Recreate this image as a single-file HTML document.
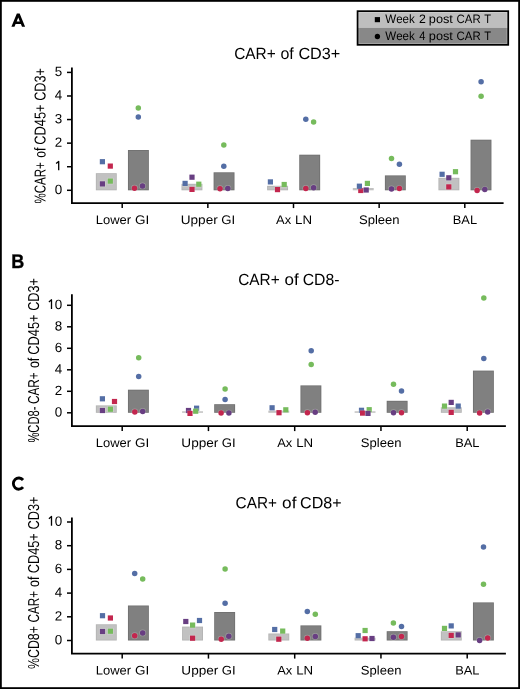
<!DOCTYPE html><html><head><meta charset="utf-8"><style>
html,body{margin:0;padding:0;background:#fff;}
svg{display:block;text-rendering:geometricPrecision;will-change:transform;}
.m{stroke:rgba(255,255,255,0.22);stroke-width:1.4px;paint-order:stroke;}
text{font-family:"Liberation Sans", sans-serif;fill:#000;font-kerning:none;}
</style></head><body>
<svg width="520" height="689" viewBox="0 0 520 689">
<rect x="0" y="0" width="520" height="689" fill="#fff"/>
<path d="M11.4 26.75L16.85 13.55H19.65L25.1 26.75H22L20.9 24H15.6L14.5 26.75ZM16.7 21.4H19.8L18.25 17.6Z" fill="#000" fill-rule="evenodd"/>
<text x="234.22" y="58.9" font-size="16.2" textLength="41.54" lengthAdjust="spacingAndGlyphs" transform="rotate(0.05 234.22 58.9)">CAR+</text>
<text x="280.43" y="58.9" font-size="16.2" textLength="13.35" lengthAdjust="spacingAndGlyphs" transform="rotate(0.05 280.43 58.9)">of</text>
<text x="298.38" y="58.9" font-size="16.2" textLength="41.92" lengthAdjust="spacingAndGlyphs" transform="rotate(0.05 298.38 58.9)">CD3+</text>
<g transform="translate(45.55,0) rotate(-90)">
<text x="-203.41" y="0" font-size="15.8" textLength="41.18" lengthAdjust="spacingAndGlyphs" transform="rotate(0.05 -203.41 0)">%CAR+</text>
<text x="-157.81" y="0" font-size="15.8" textLength="10.09" lengthAdjust="spacingAndGlyphs" transform="rotate(0.05 -157.81 0)">of</text>
<text x="-144.65" y="0" font-size="15.8" textLength="40.18" lengthAdjust="spacingAndGlyphs" transform="rotate(0.05 -144.65 0)">CD45+</text>
<text x="-100.84" y="0" font-size="15.8" textLength="32.82" lengthAdjust="spacingAndGlyphs" transform="rotate(0.05 -100.84 0)">CD3+</text>
</g>
<rect x="95.85" y="173.2" width="20.9" height="17.1" fill="#b2b2b2"/>
<rect x="96.65" y="174" width="19.3" height="15.5" fill="#c1c1c1"/>
<rect x="127.95" y="150" width="20.9" height="40.3" fill="#6f6f6f"/>
<rect x="128.75" y="150.8" width="19.3" height="38.7" fill="#808080"/>
<rect x="181.5" y="183.8" width="20.9" height="6.5" fill="#b2b2b2"/>
<rect x="182.3" y="184.6" width="19.3" height="4.9" fill="#c1c1c1"/>
<rect x="213.6" y="172.3" width="20.9" height="18" fill="#6f6f6f"/>
<rect x="214.4" y="173.1" width="19.3" height="16.4" fill="#808080"/>
<rect x="267.15" y="185.8" width="20.9" height="4.5" fill="#b2b2b2"/>
<rect x="267.95" y="186.6" width="19.3" height="2.9" fill="#c1c1c1"/>
<rect x="299.25" y="154.7" width="20.9" height="35.6" fill="#6f6f6f"/>
<rect x="300.05" y="155.5" width="19.3" height="34" fill="#808080"/>
<rect x="352.8" y="188" width="20.9" height="2.3" fill="#c1c1c1"/>
<rect x="384.9" y="175.4" width="20.9" height="14.9" fill="#6f6f6f"/>
<rect x="385.7" y="176.2" width="19.3" height="13.3" fill="#808080"/>
<rect x="438.45" y="177.8" width="20.9" height="12.5" fill="#b2b2b2"/>
<rect x="439.25" y="178.6" width="19.3" height="10.9" fill="#c1c1c1"/>
<rect x="470.55" y="139.7" width="20.9" height="50.6" fill="#6f6f6f"/>
<rect x="471.35" y="140.5" width="19.3" height="49" fill="#808080"/>
<rect x="99.8" y="159.1" width="5.2" height="5.2" fill="#546ea5" class="m"/>
<rect x="107.7" y="163.5" width="5.2" height="5.2" fill="#c3264e" class="m"/>
<rect x="99.8" y="181.3" width="5.2" height="5.2" fill="#683e82" class="m"/>
<rect x="107.7" y="178.5" width="5.2" height="5.2" fill="#76bb5c" class="m"/>
<circle cx="138.3" cy="108.1" r="2.75" fill="#76bb5c" class="m"/>
<circle cx="138.3" cy="117.1" r="2.75" fill="#546ea5" class="m"/>
<circle cx="134.5" cy="188.2" r="2.75" fill="#c3264e" class="m"/>
<circle cx="142.5" cy="185.9" r="2.75" fill="#683e82" class="m"/>
<rect x="189.4" y="174.6" width="5.2" height="5.2" fill="#683e82" class="m"/>
<rect x="182.5" y="180.8" width="5.2" height="5.2" fill="#546ea5" class="m"/>
<rect x="196.2" y="181.6" width="5.2" height="5.2" fill="#76bb5c" class="m"/>
<rect x="189.4" y="186.8" width="5.2" height="5.2" fill="#c3264e" class="m"/>
<circle cx="223.8" cy="144.9" r="2.75" fill="#76bb5c" class="m"/>
<circle cx="223.8" cy="166.3" r="2.75" fill="#546ea5" class="m"/>
<circle cx="220" cy="188.8" r="2.75" fill="#c3264e" class="m"/>
<circle cx="227.8" cy="188.5" r="2.75" fill="#683e82" class="m"/>
<rect x="267.8" y="179.3" width="5.2" height="5.2" fill="#546ea5" class="m"/>
<rect x="281.6" y="181.9" width="5.2" height="5.2" fill="#76bb5c" class="m"/>
<rect x="274.9" y="187" width="5.2" height="5.2" fill="#c3264e" class="m"/>
<circle cx="305.8" cy="119.2" r="2.75" fill="#546ea5" class="m"/>
<circle cx="313.6" cy="121.9" r="2.75" fill="#76bb5c" class="m"/>
<circle cx="305.8" cy="188.4" r="2.75" fill="#c3264e" class="m"/>
<circle cx="313.6" cy="187.8" r="2.75" fill="#683e82" class="m"/>
<rect x="358.2" y="187.9" width="5.2" height="5.2" fill="#c3264e" class="m"/>
<rect x="356.8" y="183.6" width="5.2" height="5.2" fill="#546ea5" class="m"/>
<rect x="363.6" y="187.4" width="5.2" height="5.2" fill="#683e82" class="m"/>
<rect x="364.8" y="180.8" width="5.2" height="5.2" fill="#76bb5c" class="m"/>
<circle cx="391.5" cy="158.5" r="2.75" fill="#76bb5c" class="m"/>
<circle cx="399.4" cy="164.2" r="2.75" fill="#546ea5" class="m"/>
<circle cx="391.5" cy="188.9" r="2.75" fill="#683e82" class="m"/>
<circle cx="399.4" cy="188.6" r="2.75" fill="#c3264e" class="m"/>
<rect x="439.5" y="171.7" width="5.2" height="5.2" fill="#546ea5" class="m"/>
<rect x="446.2" y="175.2" width="5.2" height="5.2" fill="#683e82" class="m"/>
<rect x="452.9" y="169.1" width="5.2" height="5.2" fill="#76bb5c" class="m"/>
<rect x="446.2" y="184.3" width="5.2" height="5.2" fill="#c3264e" class="m"/>
<circle cx="481.1" cy="81.8" r="2.75" fill="#546ea5" class="m"/>
<circle cx="481.1" cy="96.2" r="2.75" fill="#76bb5c" class="m"/>
<circle cx="477.1" cy="190.4" r="2.75" fill="#c3264e" class="m"/>
<circle cx="484.8" cy="189.6" r="2.75" fill="#683e82" class="m"/>
<path d="M71.9 67.5V203.1H503.6" fill="none" stroke="#000" stroke-width="1.8" stroke-linejoin="miter" stroke-linecap="butt"/>
<line x1="67" y1="190.3" x2="71.9" y2="190.3" stroke="#000" stroke-width="1.5"/>
<text x="62.1" y="193.95" font-size="13.4" text-anchor="end" transform="rotate(0.05 62.1 193.95)">0</text>
<line x1="67" y1="166.72" x2="71.9" y2="166.72" stroke="#000" stroke-width="1.5"/>
<path d="M56.1 163.62L58.7 161.42V170.22" fill="none" stroke="#000" stroke-width="1.3" stroke-linejoin="round"/>
<line x1="67" y1="143.14" x2="71.9" y2="143.14" stroke="#000" stroke-width="1.5"/>
<text x="62.1" y="146.79" font-size="13.4" text-anchor="end" transform="rotate(0.05 62.1 146.79)">2</text>
<line x1="67" y1="119.56" x2="71.9" y2="119.56" stroke="#000" stroke-width="1.5"/>
<text x="62.1" y="123.21" font-size="13.4" text-anchor="end" transform="rotate(0.05 62.1 123.21)">3</text>
<line x1="67" y1="95.98" x2="71.9" y2="95.98" stroke="#000" stroke-width="1.5"/>
<text x="62.1" y="99.63" font-size="13.4" text-anchor="end" transform="rotate(0.05 62.1 99.63)">4</text>
<line x1="67" y1="72.4" x2="71.9" y2="72.4" stroke="#000" stroke-width="1.5"/>
<text x="62.1" y="76.05" font-size="13.4" text-anchor="end" transform="rotate(0.05 62.1 76.05)">5</text>
<line x1="122.2" y1="203.1" x2="122.2" y2="208.1" stroke="#000" stroke-width="1.5"/>
<text x="95.74" y="224" font-size="12.5" textLength="35.28" lengthAdjust="spacingAndGlyphs" transform="rotate(0.05 95.74 224)">Lower</text>
<text x="135.12" y="224" font-size="12.5" textLength="14.22" lengthAdjust="spacingAndGlyphs" transform="rotate(0.05 135.12 224)">GI</text>
<line x1="207.85" y1="203.1" x2="207.85" y2="208.1" stroke="#000" stroke-width="1.5"/>
<text x="180.75" y="224" font-size="12.5" textLength="36.97" lengthAdjust="spacingAndGlyphs" transform="rotate(0.05 180.75 224)">Upper</text>
<text x="221.24" y="224" font-size="12.5" textLength="13.87" lengthAdjust="spacingAndGlyphs" transform="rotate(0.05 221.24 224)">GI</text>
<line x1="293.5" y1="203.1" x2="293.5" y2="208.1" stroke="#000" stroke-width="1.5"/>
<text x="276.07" y="224" font-size="12.5" textLength="15.06" lengthAdjust="spacingAndGlyphs" transform="rotate(0.05 276.07 224)">Ax</text>
<text x="295.01" y="224" font-size="12.5" textLength="16.97" lengthAdjust="spacingAndGlyphs" transform="rotate(0.05 295.01 224)">LN</text>
<line x1="379.15" y1="203.1" x2="379.15" y2="208.1" stroke="#000" stroke-width="1.5"/>
<text x="359.01" y="224" font-size="12.5" textLength="40.64" lengthAdjust="spacingAndGlyphs" transform="rotate(0.05 359.01 224)">Spleen</text>
<line x1="464.8" y1="203.1" x2="464.8" y2="208.1" stroke="#000" stroke-width="1.5"/>
<text x="452.75" y="224" font-size="12.5" textLength="24.28" lengthAdjust="spacingAndGlyphs" transform="rotate(0.05 452.75 224)">BAL</text>
<text x="11.29" y="268" font-size="19.8" font-weight="bold" textLength="13.03" lengthAdjust="spacingAndGlyphs" stroke="#000" stroke-width="0.35" transform="rotate(0.05 11.29 268)">B</text>
<text x="238.22" y="285.1" font-size="16.2" textLength="41.44" lengthAdjust="spacingAndGlyphs" transform="rotate(0.05 238.22 285.1)">CAR+</text>
<text x="284.59" y="285.1" font-size="16.2" textLength="14.19" lengthAdjust="spacingAndGlyphs" transform="rotate(0.05 284.59 285.1)">of</text>
<text x="302.7" y="285.1" font-size="16.2" textLength="36.7" lengthAdjust="spacingAndGlyphs" transform="rotate(0.05 302.7 285.1)">CD8-</text>
<g transform="translate(39,0) rotate(-90)">
<text x="-442.6" y="0" font-size="15.8" textLength="36.1" lengthAdjust="spacingAndGlyphs" transform="rotate(0.05 -442.6 0)">%CD8-</text>
<text x="-404" y="0" font-size="15.8" textLength="31.68" lengthAdjust="spacingAndGlyphs" transform="rotate(0.05 -404 0)">CAR+</text>
<text x="-368.12" y="0" font-size="15.8" textLength="10.41" lengthAdjust="spacingAndGlyphs" transform="rotate(0.05 -368.12 0)">of</text>
<text x="-354.65" y="0" font-size="15.8" textLength="40.18" lengthAdjust="spacingAndGlyphs" transform="rotate(0.05 -354.65 0)">CD45+</text>
<text x="-310.85" y="0" font-size="15.8" textLength="32.87" lengthAdjust="spacingAndGlyphs" transform="rotate(0.05 -310.85 0)">CD3+</text>
</g>
<rect x="95.85" y="405.4" width="20.9" height="7.4" fill="#b2b2b2"/>
<rect x="96.65" y="406.2" width="19.3" height="5.8" fill="#c1c1c1"/>
<rect x="127.95" y="389.7" width="20.9" height="23.1" fill="#6f6f6f"/>
<rect x="128.75" y="390.5" width="19.3" height="21.5" fill="#808080"/>
<rect x="182.1" y="411.3" width="20.9" height="1.5" fill="#c1c1c1"/>
<rect x="214.2" y="404.2" width="20.9" height="8.6" fill="#6f6f6f"/>
<rect x="215" y="405" width="19.3" height="7" fill="#808080"/>
<rect x="268.35" y="410.6" width="20.9" height="2.2" fill="#c1c1c1"/>
<rect x="300.45" y="385.4" width="20.9" height="27.4" fill="#6f6f6f"/>
<rect x="301.25" y="386.2" width="19.3" height="25.8" fill="#808080"/>
<rect x="354.6" y="411.3" width="20.9" height="1.5" fill="#c1c1c1"/>
<rect x="386.7" y="400.8" width="20.9" height="12" fill="#6f6f6f"/>
<rect x="387.5" y="401.6" width="19.3" height="10.4" fill="#808080"/>
<rect x="440.85" y="407.3" width="20.9" height="5.5" fill="#b2b2b2"/>
<rect x="441.65" y="408.1" width="19.3" height="3.9" fill="#c1c1c1"/>
<rect x="472.95" y="370.6" width="20.9" height="42.2" fill="#6f6f6f"/>
<rect x="473.75" y="371.4" width="19.3" height="40.6" fill="#808080"/>
<rect x="99.8" y="396.2" width="5.2" height="5.2" fill="#546ea5" class="m"/>
<rect x="111.9" y="398.9" width="5.2" height="5.2" fill="#c3264e" class="m"/>
<rect x="99.8" y="407.9" width="5.2" height="5.2" fill="#683e82" class="m"/>
<rect x="107.8" y="406.6" width="5.2" height="5.2" fill="#76bb5c" class="m"/>
<circle cx="138.7" cy="357.7" r="2.75" fill="#76bb5c" class="m"/>
<circle cx="138.7" cy="376.6" r="2.75" fill="#546ea5" class="m"/>
<circle cx="134.8" cy="412" r="2.75" fill="#c3264e" class="m"/>
<circle cx="142.7" cy="411.4" r="2.75" fill="#683e82" class="m"/>
<rect x="185.9" y="407.9" width="5.2" height="5.2" fill="#683e82" class="m"/>
<rect x="187.4" y="410.8" width="5.2" height="5.2" fill="#c3264e" class="m"/>
<rect x="194" y="405.6" width="5.2" height="5.2" fill="#546ea5" class="m"/>
<rect x="193.1" y="408.6" width="5.2" height="5.2" fill="#76bb5c" class="m"/>
<circle cx="225.1" cy="388.9" r="2.75" fill="#76bb5c" class="m"/>
<circle cx="225.1" cy="399.4" r="2.75" fill="#546ea5" class="m"/>
<circle cx="221.1" cy="413.1" r="2.75" fill="#c3264e" class="m"/>
<circle cx="228.9" cy="413.1" r="2.75" fill="#683e82" class="m"/>
<rect x="269.5" y="405.2" width="5.2" height="5.2" fill="#546ea5" class="m"/>
<rect x="276.4" y="410.1" width="5.2" height="5.2" fill="#c3264e" class="m"/>
<rect x="283.2" y="407.2" width="5.2" height="5.2" fill="#76bb5c" class="m"/>
<circle cx="311.2" cy="350.8" r="2.75" fill="#546ea5" class="m"/>
<circle cx="311.2" cy="364.5" r="2.75" fill="#76bb5c" class="m"/>
<circle cx="307.4" cy="412.7" r="2.75" fill="#c3264e" class="m"/>
<circle cx="315.2" cy="412.2" r="2.75" fill="#683e82" class="m"/>
<rect x="358.9" y="407.7" width="5.2" height="5.2" fill="#546ea5" class="m"/>
<rect x="366.6" y="407.1" width="5.2" height="5.2" fill="#76bb5c" class="m"/>
<rect x="360" y="410.5" width="5.2" height="5.2" fill="#c3264e" class="m"/>
<rect x="365.4" y="410.8" width="5.2" height="5.2" fill="#683e82" class="m"/>
<circle cx="393.5" cy="384.2" r="2.75" fill="#76bb5c" class="m"/>
<circle cx="401.5" cy="391.1" r="2.75" fill="#546ea5" class="m"/>
<circle cx="393.5" cy="412.8" r="2.75" fill="#683e82" class="m"/>
<circle cx="401.5" cy="412.8" r="2.75" fill="#c3264e" class="m"/>
<rect x="448.6" y="399.8" width="5.2" height="5.2" fill="#683e82" class="m"/>
<rect x="441.9" y="403.5" width="5.2" height="5.2" fill="#76bb5c" class="m"/>
<rect x="455.6" y="403.5" width="5.2" height="5.2" fill="#546ea5" class="m"/>
<rect x="448.6" y="409.8" width="5.2" height="5.2" fill="#c3264e" class="m"/>
<circle cx="483.8" cy="297.9" r="2.75" fill="#76bb5c" class="m"/>
<circle cx="483.8" cy="358.5" r="2.75" fill="#546ea5" class="m"/>
<circle cx="479.6" cy="413.1" r="2.75" fill="#c3264e" class="m"/>
<circle cx="487.7" cy="411.9" r="2.75" fill="#683e82" class="m"/>
<path d="M71.9 294.3V426.1H505.9" fill="none" stroke="#000" stroke-width="1.8" stroke-linejoin="miter" stroke-linecap="butt"/>
<line x1="67" y1="412.8" x2="71.9" y2="412.8" stroke="#000" stroke-width="1.5"/>
<text x="62.1" y="416.45" font-size="13.4" text-anchor="end" transform="rotate(0.05 62.1 416.45)">0</text>
<line x1="67" y1="391.3" x2="71.9" y2="391.3" stroke="#000" stroke-width="1.5"/>
<text x="62.1" y="394.95" font-size="13.4" text-anchor="end" transform="rotate(0.05 62.1 394.95)">2</text>
<line x1="67" y1="369.8" x2="71.9" y2="369.8" stroke="#000" stroke-width="1.5"/>
<text x="62.1" y="373.45" font-size="13.4" text-anchor="end" transform="rotate(0.05 62.1 373.45)">4</text>
<line x1="67" y1="348.3" x2="71.9" y2="348.3" stroke="#000" stroke-width="1.5"/>
<text x="62.1" y="351.95" font-size="13.4" text-anchor="end" transform="rotate(0.05 62.1 351.95)">6</text>
<line x1="67" y1="326.8" x2="71.9" y2="326.8" stroke="#000" stroke-width="1.5"/>
<text x="62.1" y="330.45" font-size="13.4" text-anchor="end" transform="rotate(0.05 62.1 330.45)">8</text>
<line x1="67" y1="305.3" x2="71.9" y2="305.3" stroke="#000" stroke-width="1.5"/>
<path d="M48.9 302L51.5 299.8V309" fill="none" stroke="#000" stroke-width="1.3" stroke-linejoin="round"/>
<text x="62.1" y="308.95" font-size="13.4" text-anchor="end" transform="rotate(0.05 62.1 308.95)">0</text>
<line x1="122.2" y1="426.1" x2="122.2" y2="431.1" stroke="#000" stroke-width="1.5"/>
<text x="95.74" y="447" font-size="12.5" textLength="35.28" lengthAdjust="spacingAndGlyphs" transform="rotate(0.05 95.74 447)">Lower</text>
<text x="135.12" y="447" font-size="12.5" textLength="14.22" lengthAdjust="spacingAndGlyphs" transform="rotate(0.05 135.12 447)">GI</text>
<line x1="208.45" y1="426.1" x2="208.45" y2="431.1" stroke="#000" stroke-width="1.5"/>
<text x="181.35" y="447" font-size="12.5" textLength="36.97" lengthAdjust="spacingAndGlyphs" transform="rotate(0.05 181.35 447)">Upper</text>
<text x="221.84" y="447" font-size="12.5" textLength="13.87" lengthAdjust="spacingAndGlyphs" transform="rotate(0.05 221.84 447)">GI</text>
<line x1="294.7" y1="426.1" x2="294.7" y2="431.1" stroke="#000" stroke-width="1.5"/>
<text x="277.27" y="447" font-size="12.5" textLength="15.06" lengthAdjust="spacingAndGlyphs" transform="rotate(0.05 277.27 447)">Ax</text>
<text x="296.21" y="447" font-size="12.5" textLength="16.97" lengthAdjust="spacingAndGlyphs" transform="rotate(0.05 296.21 447)">LN</text>
<line x1="380.95" y1="426.1" x2="380.95" y2="431.1" stroke="#000" stroke-width="1.5"/>
<text x="360.81" y="447" font-size="12.5" textLength="40.64" lengthAdjust="spacingAndGlyphs" transform="rotate(0.05 360.81 447)">Spleen</text>
<line x1="467.2" y1="426.1" x2="467.2" y2="431.1" stroke="#000" stroke-width="1.5"/>
<text x="455.15" y="447" font-size="12.5" textLength="24.28" lengthAdjust="spacingAndGlyphs" transform="rotate(0.05 455.15 447)">BAL</text>
<path d="M23.06 480.00A5.5 5.6 0 1 0 23.06 487.20" fill="none" stroke="#000" stroke-width="2.85"/>
<text x="235.62" y="508.15" font-size="16.2" textLength="41.34" lengthAdjust="spacingAndGlyphs" transform="rotate(0.05 235.62 508.15)">CAR+</text>
<text x="282.07" y="508.15" font-size="16.2" textLength="14.4" lengthAdjust="spacingAndGlyphs" transform="rotate(0.05 282.07 508.15)">of</text>
<text x="300.08" y="508.15" font-size="16.2" textLength="41.51" lengthAdjust="spacingAndGlyphs" transform="rotate(0.05 300.08 508.15)">CD8+</text>
<g transform="translate(39,0) rotate(-90)">
<text x="-669.04" y="0" font-size="15.8" textLength="42.95" lengthAdjust="spacingAndGlyphs" transform="rotate(0.05 -669.04 0)">%CD8+</text>
<text x="-622.39" y="0" font-size="15.8" textLength="31.47" lengthAdjust="spacingAndGlyphs" transform="rotate(0.05 -622.39 0)">CAR+</text>
<text x="-587.02" y="0" font-size="15.8" textLength="10.41" lengthAdjust="spacingAndGlyphs" transform="rotate(0.05 -587.02 0)">of</text>
<text x="-573.25" y="0" font-size="15.8" textLength="40.08" lengthAdjust="spacingAndGlyphs" transform="rotate(0.05 -573.25 0)">CD45+</text>
<text x="-529.55" y="0" font-size="15.8" textLength="32.98" lengthAdjust="spacingAndGlyphs" transform="rotate(0.05 -529.55 0)">CD3+</text>
</g>
<rect x="95.85" y="624.3" width="20.9" height="16.2" fill="#b2b2b2"/>
<rect x="96.65" y="625.1" width="19.3" height="14.6" fill="#c1c1c1"/>
<rect x="127.95" y="605.5" width="20.9" height="35" fill="#6f6f6f"/>
<rect x="128.75" y="606.3" width="19.3" height="33.4" fill="#808080"/>
<rect x="182.1" y="626.6" width="20.9" height="13.9" fill="#b2b2b2"/>
<rect x="182.9" y="627.4" width="19.3" height="12.3" fill="#c1c1c1"/>
<rect x="214.2" y="612" width="20.9" height="28.5" fill="#6f6f6f"/>
<rect x="215" y="612.8" width="19.3" height="26.9" fill="#808080"/>
<rect x="268.35" y="633.5" width="20.9" height="7" fill="#b2b2b2"/>
<rect x="269.15" y="634.3" width="19.3" height="5.4" fill="#c1c1c1"/>
<rect x="300.45" y="625.4" width="20.9" height="15.1" fill="#6f6f6f"/>
<rect x="301.25" y="626.2" width="19.3" height="13.5" fill="#808080"/>
<rect x="354.6" y="637.7" width="20.9" height="2.8" fill="#b2b2b2"/>
<rect x="355.4" y="638.5" width="19.3" height="1.2" fill="#c1c1c1"/>
<rect x="386.7" y="631.2" width="20.9" height="9.3" fill="#6f6f6f"/>
<rect x="387.5" y="632" width="19.3" height="7.7" fill="#808080"/>
<rect x="440.85" y="631.2" width="20.9" height="9.3" fill="#b2b2b2"/>
<rect x="441.65" y="632" width="19.3" height="7.7" fill="#c1c1c1"/>
<rect x="472.95" y="602.4" width="20.9" height="38.1" fill="#6f6f6f"/>
<rect x="473.75" y="603.2" width="19.3" height="36.5" fill="#808080"/>
<rect x="99.9" y="613.1" width="5.2" height="5.2" fill="#546ea5" class="m"/>
<rect x="107.8" y="615.4" width="5.2" height="5.2" fill="#c3264e" class="m"/>
<rect x="99.9" y="628.9" width="5.2" height="5.2" fill="#683e82" class="m"/>
<rect x="107.8" y="628.6" width="5.2" height="5.2" fill="#76bb5c" class="m"/>
<circle cx="134.7" cy="573.5" r="2.75" fill="#546ea5" class="m"/>
<circle cx="142.7" cy="578.9" r="2.75" fill="#76bb5c" class="m"/>
<circle cx="134.7" cy="635.8" r="2.75" fill="#c3264e" class="m"/>
<circle cx="142.7" cy="632.9" r="2.75" fill="#683e82" class="m"/>
<rect x="183.2" y="618.9" width="5.2" height="5.2" fill="#683e82" class="m"/>
<rect x="196.9" y="617.9" width="5.2" height="5.2" fill="#546ea5" class="m"/>
<rect x="190" y="622.5" width="5.2" height="5.2" fill="#76bb5c" class="m"/>
<rect x="190" y="635.6" width="5.2" height="5.2" fill="#c3264e" class="m"/>
<circle cx="225.1" cy="568.9" r="2.75" fill="#76bb5c" class="m"/>
<circle cx="225.1" cy="603.2" r="2.75" fill="#546ea5" class="m"/>
<circle cx="221.2" cy="639.2" r="2.75" fill="#c3264e" class="m"/>
<circle cx="228.8" cy="636.3" r="2.75" fill="#683e82" class="m"/>
<rect x="272.1" y="626.9" width="5.2" height="5.2" fill="#546ea5" class="m"/>
<rect x="280.1" y="628.5" width="5.2" height="5.2" fill="#76bb5c" class="m"/>
<rect x="276.2" y="636.6" width="5.2" height="5.2" fill="#c3264e" class="m"/>
<circle cx="307.3" cy="611.5" r="2.75" fill="#546ea5" class="m"/>
<circle cx="315.3" cy="614.3" r="2.75" fill="#76bb5c" class="m"/>
<circle cx="307.3" cy="638.2" r="2.75" fill="#c3264e" class="m"/>
<circle cx="315.3" cy="636.5" r="2.75" fill="#683e82" class="m"/>
<rect x="362.5" y="627.9" width="5.2" height="5.2" fill="#76bb5c" class="m"/>
<rect x="355.6" y="633.1" width="5.2" height="5.2" fill="#546ea5" class="m"/>
<rect x="362.5" y="636.2" width="5.2" height="5.2" fill="#c3264e" class="m"/>
<rect x="369.4" y="635.9" width="5.2" height="5.2" fill="#683e82" class="m"/>
<circle cx="393.4" cy="623.1" r="2.75" fill="#76bb5c" class="m"/>
<circle cx="401.5" cy="626.6" r="2.75" fill="#546ea5" class="m"/>
<circle cx="393.4" cy="637.2" r="2.75" fill="#683e82" class="m"/>
<circle cx="401.5" cy="636.5" r="2.75" fill="#c3264e" class="m"/>
<rect x="448.6" y="623.3" width="5.2" height="5.2" fill="#546ea5" class="m"/>
<rect x="441.9" y="625.8" width="5.2" height="5.2" fill="#76bb5c" class="m"/>
<rect x="448.6" y="632.8" width="5.2" height="5.2" fill="#c3264e" class="m"/>
<rect x="455.6" y="632.3" width="5.2" height="5.2" fill="#683e82" class="m"/>
<circle cx="483.5" cy="546.9" r="2.75" fill="#546ea5" class="m"/>
<circle cx="483.5" cy="584.3" r="2.75" fill="#76bb5c" class="m"/>
<circle cx="479.6" cy="640.5" r="2.75" fill="#683e82" class="m"/>
<circle cx="487.7" cy="637.9" r="2.75" fill="#c3264e" class="m"/>
<path d="M71.9 517.4V653.6H505.9" fill="none" stroke="#000" stroke-width="1.8" stroke-linejoin="miter" stroke-linecap="butt"/>
<line x1="67" y1="640.5" x2="71.9" y2="640.5" stroke="#000" stroke-width="1.5"/>
<text x="62.1" y="644.15" font-size="13.4" text-anchor="end" transform="rotate(0.05 62.1 644.15)">0</text>
<line x1="67" y1="616.8" x2="71.9" y2="616.8" stroke="#000" stroke-width="1.5"/>
<text x="62.1" y="620.45" font-size="13.4" text-anchor="end" transform="rotate(0.05 62.1 620.45)">2</text>
<line x1="67" y1="593.1" x2="71.9" y2="593.1" stroke="#000" stroke-width="1.5"/>
<text x="62.1" y="596.75" font-size="13.4" text-anchor="end" transform="rotate(0.05 62.1 596.75)">4</text>
<line x1="67" y1="569.4" x2="71.9" y2="569.4" stroke="#000" stroke-width="1.5"/>
<text x="62.1" y="573.05" font-size="13.4" text-anchor="end" transform="rotate(0.05 62.1 573.05)">6</text>
<line x1="67" y1="545.7" x2="71.9" y2="545.7" stroke="#000" stroke-width="1.5"/>
<text x="62.1" y="549.35" font-size="13.4" text-anchor="end" transform="rotate(0.05 62.1 549.35)">8</text>
<line x1="67" y1="522" x2="71.9" y2="522" stroke="#000" stroke-width="1.5"/>
<path d="M48.9 518.7L51.5 516.5V525.7" fill="none" stroke="#000" stroke-width="1.3" stroke-linejoin="round"/>
<text x="62.1" y="525.65" font-size="13.4" text-anchor="end" transform="rotate(0.05 62.1 525.65)">0</text>
<line x1="122.2" y1="653.6" x2="122.2" y2="658.6" stroke="#000" stroke-width="1.5"/>
<text x="95.74" y="674.6" font-size="12.5" textLength="35.28" lengthAdjust="spacingAndGlyphs" transform="rotate(0.05 95.74 674.6)">Lower</text>
<text x="135.12" y="674.6" font-size="12.5" textLength="14.22" lengthAdjust="spacingAndGlyphs" transform="rotate(0.05 135.12 674.6)">GI</text>
<line x1="208.45" y1="653.6" x2="208.45" y2="658.6" stroke="#000" stroke-width="1.5"/>
<text x="181.35" y="674.6" font-size="12.5" textLength="36.97" lengthAdjust="spacingAndGlyphs" transform="rotate(0.05 181.35 674.6)">Upper</text>
<text x="221.84" y="674.6" font-size="12.5" textLength="13.87" lengthAdjust="spacingAndGlyphs" transform="rotate(0.05 221.84 674.6)">GI</text>
<line x1="294.7" y1="653.6" x2="294.7" y2="658.6" stroke="#000" stroke-width="1.5"/>
<text x="277.27" y="674.6" font-size="12.5" textLength="15.06" lengthAdjust="spacingAndGlyphs" transform="rotate(0.05 277.27 674.6)">Ax</text>
<text x="296.21" y="674.6" font-size="12.5" textLength="16.97" lengthAdjust="spacingAndGlyphs" transform="rotate(0.05 296.21 674.6)">LN</text>
<line x1="380.95" y1="653.6" x2="380.95" y2="658.6" stroke="#000" stroke-width="1.5"/>
<text x="360.81" y="674.6" font-size="12.5" textLength="40.64" lengthAdjust="spacingAndGlyphs" transform="rotate(0.05 360.81 674.6)">Spleen</text>
<line x1="467.2" y1="653.6" x2="467.2" y2="658.6" stroke="#000" stroke-width="1.5"/>
<text x="455.15" y="674.6" font-size="12.5" textLength="24.28" lengthAdjust="spacingAndGlyphs" transform="rotate(0.05 455.15 674.6)">BAL</text>
<rect x="357.5" y="11.2" width="150.8" height="16.6" fill="#bebebe"/>
<rect x="357.5" y="27.8" width="150.8" height="17.0" fill="#888888"/>
<rect x="358.9" y="12.5" width="148" height="31" fill="none" stroke="rgba(255,255,255,0.22)" stroke-width="1"/>
<rect x="357.55" y="11.15" width="150.7" height="33.7" fill="none" stroke="#000" stroke-width="1.7"/>
<rect x="374.8" y="17.1" width="5.2" height="5.1" fill="#000"/>
<circle cx="377.4" cy="36.5" r="2.65" fill="#000"/>
<text x="385.25" y="23" font-size="12.2" textLength="29.53" lengthAdjust="spacingAndGlyphs" transform="rotate(0.05 385.25 23)">Week</text>
<text x="418.98" y="23" font-size="12.2" textLength="6.84" lengthAdjust="spacingAndGlyphs" transform="rotate(0.05 418.98 23)">2</text>
<text x="428.88" y="23" font-size="12.2" textLength="24.01" lengthAdjust="spacingAndGlyphs" transform="rotate(0.05 428.88 23)">post</text>
<text x="456.62" y="23" font-size="12.2" textLength="24.11" lengthAdjust="spacingAndGlyphs" transform="rotate(0.05 456.62 23)">CAR</text>
<text x="484.35" y="23" font-size="12.2" textLength="6.81" lengthAdjust="spacingAndGlyphs" transform="rotate(0.05 484.35 23)">T</text>
<text x="385.25" y="40" font-size="12.2" textLength="29.53" lengthAdjust="spacingAndGlyphs" transform="rotate(0.05 385.25 40)">Week</text>
<text x="419.34" y="40" font-size="12.2" textLength="6.18" lengthAdjust="spacingAndGlyphs" transform="rotate(0.05 419.34 40)">4</text>
<text x="428.88" y="40" font-size="12.2" textLength="24.01" lengthAdjust="spacingAndGlyphs" transform="rotate(0.05 428.88 40)">post</text>
<text x="456.62" y="40" font-size="12.2" textLength="24.11" lengthAdjust="spacingAndGlyphs" transform="rotate(0.05 456.62 40)">CAR</text>
<text x="484.35" y="40" font-size="12.2" textLength="6.81" lengthAdjust="spacingAndGlyphs" transform="rotate(0.05 484.35 40)">T</text>
<rect x="0.9" y="0.9" width="518.2" height="687.2" fill="none" stroke="#000" stroke-width="1.8"/>
</svg></body></html>
